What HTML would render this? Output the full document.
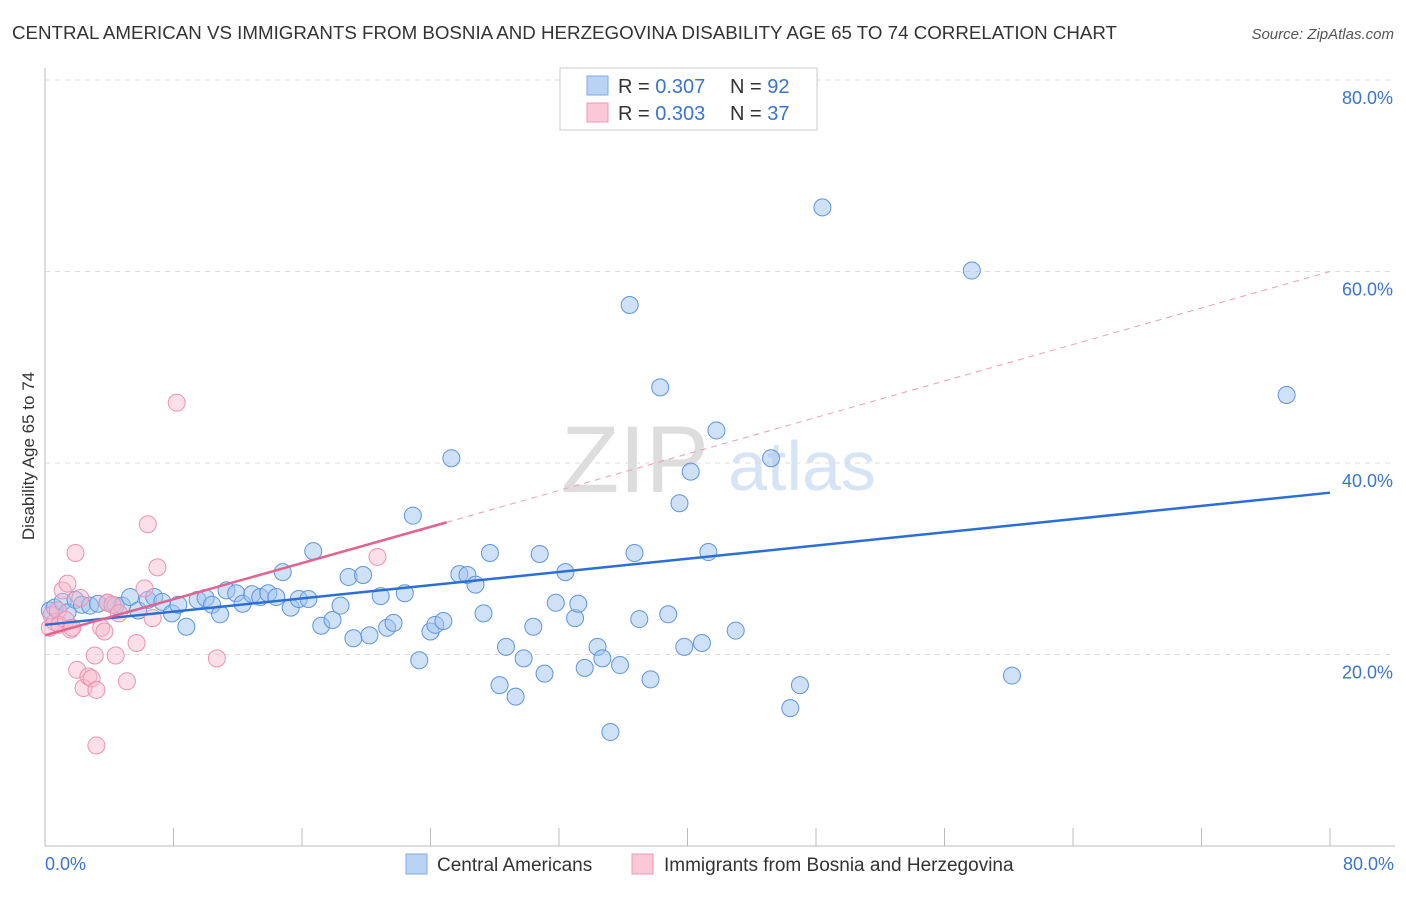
<!DOCTYPE html>
<html><head><meta charset="utf-8"><style>
body{margin:0;background:#fff;font-family:"Liberation Sans",sans-serif}
svg text{font-family:"Liberation Sans",sans-serif}
</style></head><body>
<svg id="chart" width="1406" height="892" xmlns="http://www.w3.org/2000/svg">
<text x="12" y="39" font-size="18" fill="#333" textLength="1105" lengthAdjust="spacingAndGlyphs">CENTRAL AMERICAN VS IMMIGRANTS FROM BOSNIA AND HERZEGOVINA DISABILITY AGE 65 TO 74 CORRELATION CHART</text>
<text x="1394" y="39" font-size="15" fill="#555" font-style="italic" text-anchor="end">Source: ZipAtlas.com</text>
<text x="635" y="492" font-size="95" fill="#ddd" font-family="Liberation Serif" text-anchor="middle">ZIP</text>
<text x="802" y="490" font-size="70" fill="#d6e4f5" text-anchor="middle">atlas</text>
<g id="grid"></g><g id="ticks"></g>
<line x1="45" y1="68" x2="45" y2="846" stroke="#bbb"/>
<line x1="45" y1="846" x2="1395" y2="846" stroke="#bbb"/>
<text transform="translate(34,456) rotate(-90)" font-size="17" fill="#333" text-anchor="middle">Disability Age 65 to 74</text>
<text x="45" y="870" font-size="18" fill="#3b74d0">0.0%</text>
<text x="1394" y="870" font-size="18" fill="#3b74d0" text-anchor="end">80.0%</text>
<g id="pts"></g><g id="trend"></g>
<g>
<rect x="560" y="68" width="257" height="62" fill="#fff" stroke="#ccc"/>
<rect x="587" y="76" width="21" height="19" fill="#b9d3f5" stroke="#7ea9e6"/>
<rect x="587" y="103" width="21" height="19" fill="#fbc8d8" stroke="#ee9ab5"/>
<text x="618" y="93" font-size="20" fill="#333">R = <tspan fill="#3b74d0">0.307</tspan></text>
<text x="730" y="93" font-size="20" fill="#333">N = <tspan fill="#3b74d0">92</tspan></text>
<text x="618" y="120" font-size="20" fill="#333">R = <tspan fill="#3b74d0">0.303</tspan></text>
<text x="730" y="120" font-size="20" fill="#333">N = <tspan fill="#3b74d0">37</tspan></text>
</g>
<g>
<rect x="406" y="854" width="21" height="20" fill="#b9d3f5" stroke="#7ea9e6"/>
<text x="437" y="871" font-size="19" fill="#333">Central Americans</text>
<rect x="632" y="854" width="21" height="20" fill="#fbc8d8" stroke="#ee9ab5"/>
<text x="664" y="871" font-size="19" fill="#333">Immigrants from Bosnia and Herzegovina</text>
</g>
</svg>
<script>
const yTicks=[20,40,60,80];
const xTickVals=[0,8,16,24,32,40,48,56,64,72,80];
const blueX=[0.3,0.6,1.1,1.4,1.9,2.3,2.8,3.3,3.9,4.4,4.8,5.3,5.8,6.4,6.8,7.3,7.9,8.3,8.8,9.5,10.0,10.4,10.9,11.3,11.9,12.3,12.9,13.4,13.9,14.4,14.8,15.3,15.8,16.4,16.7,17.2,17.9,18.4,18.9,19.2,19.8,20.2,20.9,21.3,21.7,22.4,22.9,23.3,24.0,24.3,24.8,25.3,25.8,26.3,26.8,27.3,27.7,28.3,28.7,29.3,29.8,30.4,30.8,31.1,31.8,32.4,33.0,33.2,33.6,34.4,34.7,35.2,35.8,36.4,37.0,37.7,38.3,36.7,38.8,39.5,39.8,40.2,40.9,41.3,41.8,43.0,45.2,46.4,47.0,48.4,57.7,60.2,77.3];
const blueY=[24.6,24.9,25.5,24.4,25.7,25.2,25.1,25.3,25.4,25.1,25.1,26.0,24.6,25.7,26.0,25.5,24.3,25.2,22.9,25.7,25.9,25.2,24.2,26.7,26.4,25.3,26.3,26.0,26.4,26.0,28.6,24.9,25.8,25.8,30.8,23.0,23.6,25.1,28.1,21.7,28.3,22.0,26.1,22.8,23.3,26.4,34.5,19.4,22.4,23.1,23.5,40.5,28.4,28.3,27.3,24.3,30.6,16.8,20.8,15.6,19.6,22.9,30.5,18.0,25.4,28.6,23.8,25.3,18.6,20.8,19.6,11.9,18.9,56.5,23.7,17.4,47.9,30.6,24.2,35.8,20.8,39.1,21.2,30.7,43.4,22.5,40.5,14.4,16.8,66.7,60.1,17.8,47.1];
const pinkX=[0.3,0.4,0.6,0.8,0.9,1.1,1.3,1.4,1.6,1.7,1.9,2.0,2.2,2.4,2.7,2.9,3.1,3.2,3.2,3.5,3.7,3.9,4.2,4.4,4.6,5.1,5.7,6.2,6.4,6.7,7.0,8.2,10.7,20.7];
const pinkY=[22.8,24.1,23.4,24.6,23.1,26.7,23.6,27.4,22.6,22.8,30.6,18.4,25.9,16.5,17.7,17.5,19.9,16.3,10.5,22.8,22.4,25.4,25.2,19.9,24.3,17.2,21.2,26.9,33.6,23.8,29.1,46.3,19.6,30.2];
const blueTrend=[[0,23.1],[80,36.9]];
const pinkTrend=[[0,22.0],[25,33.8]];
const pinkDash=[[25,33.8],[80,60.0]];
const X=v=>45+v/80*1285, Y=v=>846-v/20*191.5;
const NS="http://www.w3.org/2000/svg";
function mk(p,t,a){const e=document.createElementNS(NS,t);for(const k in a)e.setAttribute(k,a[k]);document.getElementById(p).appendChild(e);return e;}
yTicks.forEach(v=>{
 const l=mk('grid','line',{x1:45,x2:1395,y1:Y(v),y2:Y(v),stroke:'#ddd','stroke-dasharray':'5,5'});
 
 
 const t=mk('grid','text',{x:1393,y:Y(v)+24,'font-size':18,fill:'#3b74d0','text-anchor':'end'});
 t.textContent=v.toFixed(1)+'%';
 
 
});
xTickVals.forEach(v=>{
 const l=mk('ticks','line',{x1:X(v),x2:X(v),y1:828,y2:846,stroke:'#bbb'});
 
 
});
blueX.forEach((x,i)=>{
 const c=mk('pts','circle',{cx:X(x),cy:Y(blueY[i]),r:8.5,fill:'rgba(160,196,240,0.5)',stroke:'#5f95dc','stroke-width':1});
 
 
});
pinkX.forEach((x,i)=>{
 const c=mk('pts','circle',{cx:X(x),cy:Y(pinkY[i]),r:8.5,fill:'rgba(248,184,204,0.45)',stroke:'#eb93b0','stroke-width':1});
 
 
});
let l=mk('trend','line',{x1:X(pinkDash[0][0]),y1:Y(pinkDash[0][1]),x2:X(pinkDash[1][0]),y2:Y(pinkDash[1][1]),stroke:'#e8a0b8','stroke-dasharray':'6,5'});


l=mk('trend','line',{x1:X(blueTrend[0][0]),y1:Y(blueTrend[0][1]),x2:X(blueTrend[1][0]),y2:Y(blueTrend[1][1]),stroke:'#2b6fd6','stroke-width':2.5});


l=mk('trend','line',{x1:X(pinkTrend[0][0]),y1:Y(pinkTrend[0][1]),x2:X(pinkTrend[1][0]),y2:Y(pinkTrend[1][1]),stroke:'#e4628e','stroke-width':2.5});


</script>
</body></html>
